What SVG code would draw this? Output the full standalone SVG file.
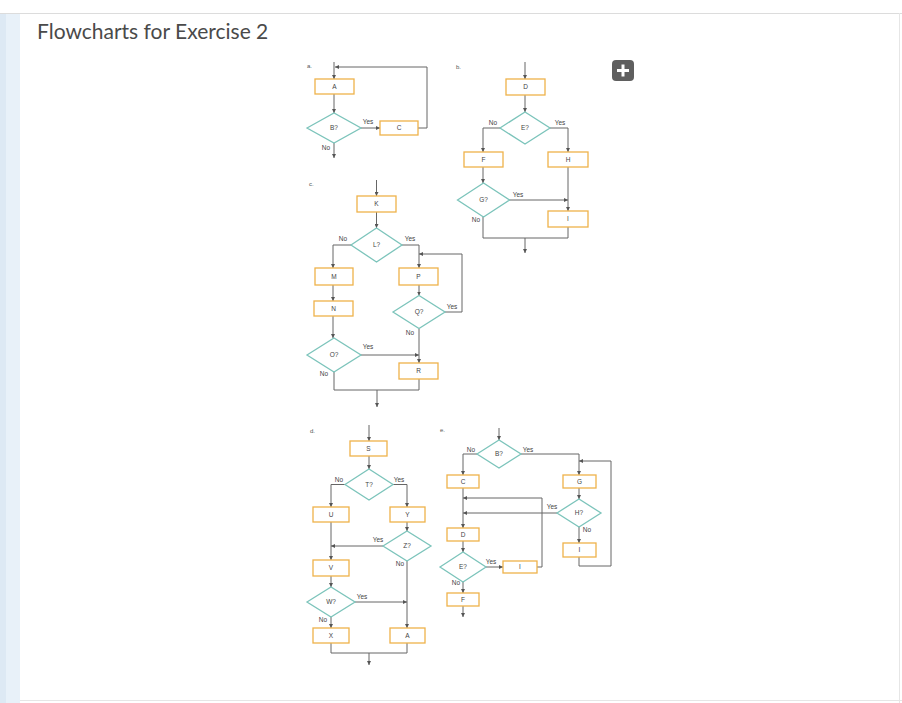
<svg xmlns="http://www.w3.org/2000/svg" width="902" height="703" viewBox="0 0 902 703">
<defs>
<marker id="ah" viewBox="0 0 6 6" refX="6" refY="3" markerWidth="4" markerHeight="4" orient="auto" markerUnits="userSpaceOnUse"><path d="M0,0 L6,3 L0,6 z" fill="#555"/></marker>
<style>
.bx{fill:#fff;stroke:#efb24a;stroke-width:1.3}
.dm{fill:#fff;stroke:#7cc4bb;stroke-width:1.3}
.ln{fill:none;stroke:#666;stroke-width:1}
.ar{marker-end:url(#ah)}
.t{font-family:"Liberation Sans",Arial,sans-serif;font-size:6.5px;fill:#444;text-anchor:middle}
.lb{font-family:"Liberation Sans",Arial,sans-serif;font-size:6.5px;fill:#444;text-anchor:middle}
.cl{font-family:"Liberation Sans",Arial,sans-serif;font-size:6px;fill:#555}
</style>
</defs>
<rect width="902" height="703" fill="#fff"/>
<rect x="0" y="13" width="20" height="690" fill="#e8f1f9"/>
<rect x="0" y="13" width="6" height="690" fill="#dde9f4"/>
<line x1="0" y1="13.5" x2="902" y2="13.5" stroke="#dcdcdc"/>
<line x1="899.5" y1="13" x2="899.5" y2="703" stroke="#e6e6e6"/>
<line x1="20" y1="700.5" x2="902" y2="700.5" stroke="#e6e6e6"/>
<text x="37" y="39" font-family="Lato,'Open Sans',sans-serif" font-size="21" fill="#4a4a4a">Flowcharts for Exercise 2</text>
<g id="plus"><rect x="612" y="60" width="22" height="21" rx="4" fill="#5f5f5f"/><rect x="617" y="69" width="12" height="3" fill="#fff"/><rect x="621.5" y="64.5" width="3" height="12" fill="#fff"/></g>
<g id="chart-labels"><text class="cl" x="307" y="68">a.</text><text class="cl" x="456" y="69">b.</text><text class="cl" x="309" y="186">c.</text><text class="cl" x="310" y="433">d.</text><text class="cl" x="440" y="432">e.</text></g>
<g id="connectors">
<path class="ln ar" d="M334,62 V79"/>
<path class="ln ar" d="M334,94 V113"/>
<path class="ln ar" d="M361,128 H380"/>
<path class="ln ar" d="M418,128 H427 V67 H335"/>
<path class="ln ar" d="M334,143 V158"/>
<path class="ln ar" d="M525,62 V79"/>
<path class="ln ar" d="M525,95 V112"/>
<path class="ln ar" d="M500,128 H483 V152"/>
<path class="ln ar" d="M550,128 H568 V152"/>
<path class="ln ar" d="M483,167 V183"/>
<path class="ln ar" d="M509,200 H568"/>
<path class="ln ar" d="M568,167 V211"/>
<path class="ln" d="M483,217 V238 H568 V227"/>
<path class="ln ar" d="M525,238 V253"/>
<path class="ln ar" d="M376.5,180 V196"/>
<path class="ln ar" d="M376.5,212 V228"/>
<path class="ln ar" d="M351,245 H333 V268"/>
<path class="ln ar" d="M402,245 H419 V268"/>
<path class="ln ar" d="M333,285 V301"/>
<path class="ln ar" d="M419,285 V295.5"/>
<path class="ln ar" d="M445,312 H462 V254 H419"/>
<path class="ln ar" d="M333,316 V338"/>
<path class="ln ar" d="M361,355 H419"/>
<path class="ln ar" d="M419,328.5 V363"/>
<path class="ln" d="M334,372 V390 H419 V379"/>
<path class="ln ar" d="M377,390 V407"/>
<path class="ln ar" d="M369,425 V441"/>
<path class="ln ar" d="M369,456 V469"/>
<path class="ln ar" d="M345,484.5 H331 V507"/>
<path class="ln ar" d="M393,484.5 H407 V507"/>
<path class="ln ar" d="M407,522 V531"/>
<path class="ln ar" d="M331,522 V560"/>
<path class="ln ar" d="M383,546 H331"/>
<path class="ln ar" d="M331,576 V587"/>
<path class="ln ar" d="M355,602 H407"/>
<path class="ln ar" d="M407,561 V628"/>
<path class="ln ar" d="M331,617 V628"/>
<path class="ln" d="M331,643 V653 H407 V643"/>
<path class="ln ar" d="M369,653 V665"/>
<path class="ln ar" d="M499,428 V440"/>
<path class="ln ar" d="M477,454 H463 V475"/>
<path class="ln ar" d="M521,454 H579 V475"/>
<path class="ln ar" d="M579,488 V499"/>
<path class="ln ar" d="M579,527 V543"/>
<path class="ln ar" d="M579,557 V566 H611 V461 H579"/>
<path class="ln ar" d="M557,513 H463"/>
<path class="ln ar" d="M537,567 H542 V498 H463"/>
<path class="ln ar" d="M463,488 V528"/>
<path class="ln ar" d="M463,541 V552"/>
<path class="ln ar" d="M486,567 H503"/>
<path class="ln ar" d="M463,582 V593"/>
<path class="ln ar" d="M463,606 V617"/>
</g>
<g id="edge-labels">
<text class="lb" x="368" y="124">Yes</text><text class="lb" x="326" y="150">No</text>
<text class="lb" x="493" y="125">No</text><text class="lb" x="560" y="125">Yes</text><text class="lb" x="518" y="197">Yes</text><text class="lb" x="476" y="222">No</text>
<text class="lb" x="343" y="241">No</text><text class="lb" x="410" y="241">Yes</text><text class="lb" x="452" y="309">Yes</text><text class="lb" x="410" y="335">No</text><text class="lb" x="368" y="349">Yes</text><text class="lb" x="324" y="376">No</text>
<text class="lb" x="339" y="482">No</text><text class="lb" x="399" y="482">Yes</text><text class="lb" x="378" y="542">Yes</text><text class="lb" x="400" y="566">No</text><text class="lb" x="362" y="599">Yes</text><text class="lb" x="323" y="622">No</text>
<text class="lb" x="471" y="452">No</text><text class="lb" x="528" y="452">Yes</text><text class="lb" x="552" y="509">Yes</text><text class="lb" x="587" y="532">No</text><text class="lb" x="491" y="564">Yes</text><text class="lb" x="456" y="585">No</text>
</g>
<g id="a-A"><rect class="bx" x="315" y="79" width="39" height="15"/><text class="t" x="334.5" y="88.5">A</text></g>
<g id="a-B"><polygon class="dm" points="307,128 334,113 361,128 334,143"/><text class="t" x="334" y="130">B?</text></g>
<g id="a-C"><rect class="bx" x="380" y="121" width="38" height="14"/><text class="t" x="399" y="130">C</text></g>
<g id="b-D"><rect class="bx" x="506" y="79" width="39" height="16"/><text class="t" x="525.5" y="89">D</text></g>
<g id="b-E"><polygon class="dm" points="500,128 525,112 550,128 525,144"/><text class="t" x="525" y="130">E?</text></g>
<g id="b-F"><rect class="bx" x="464" y="152" width="39" height="15"/><text class="t" x="483.5" y="161.5">F</text></g>
<g id="b-H"><rect class="bx" x="548" y="152" width="40" height="15"/><text class="t" x="568" y="161.5">H</text></g>
<g id="b-G"><polygon class="dm" points="457.5,200 483.5,183 509.5,200 483.5,217"/><text class="t" x="483.5" y="202">G?</text></g>
<g id="b-I"><rect class="bx" x="548" y="211" width="40" height="16"/><text class="t" x="568" y="221">I</text></g>
<g id="c-K"><rect class="bx" x="357" y="196" width="39" height="16"/><text class="t" x="376.5" y="206">K</text></g>
<g id="c-L"><polygon class="dm" points="351,245 376.5,228 402,245 376.5,262"/><text class="t" x="376.5" y="247">L?</text></g>
<g id="c-M"><rect class="bx" x="315" y="268" width="38" height="17"/><text class="t" x="334" y="278.5">M</text></g>
<g id="c-P"><rect class="bx" x="399" y="268" width="39" height="17"/><text class="t" x="418.5" y="278.5">P</text></g>
<g id="c-N"><rect class="bx" x="314" y="301" width="39" height="15"/><text class="t" x="333.5" y="310.5">N</text></g>
<g id="c-Q"><polygon class="dm" points="393,312 419,295.5 445,312 419,328.5"/><text class="t" x="419" y="314">Q?</text></g>
<g id="c-O"><polygon class="dm" points="307,355 334,338 361,355 334,372"/><text class="t" x="334" y="357">O?</text></g>
<g id="c-R"><rect class="bx" x="399" y="363" width="39" height="16"/><text class="t" x="418.5" y="373">R</text></g>
<g id="d-S"><rect class="bx" x="350" y="441" width="37" height="15"/><text class="t" x="368.5" y="450.5">S</text></g>
<g id="d-T"><polygon class="dm" points="345,484.5 369,469 393,484.5 369,500"/><text class="t" x="369" y="486.5">T?</text></g>
<g id="d-U"><rect class="bx" x="313" y="507" width="36" height="15"/><text class="t" x="331" y="516.5">U</text></g>
<g id="d-Y"><rect class="bx" x="390" y="507" width="35" height="15"/><text class="t" x="407.5" y="516.5">Y</text></g>
<g id="d-Z"><polygon class="dm" points="383,546 407,531 431,546 407,561"/><text class="t" x="407" y="548">Z?</text></g>
<g id="d-V"><rect class="bx" x="313" y="560" width="36" height="16"/><text class="t" x="331" y="570">V</text></g>
<g id="d-W"><polygon class="dm" points="307,602 331,587 355,602 331,617"/><text class="t" x="331" y="604">W?</text></g>
<g id="d-X"><rect class="bx" x="313" y="628" width="36" height="15"/><text class="t" x="331" y="637.5">X</text></g>
<g id="d-A"><rect class="bx" x="390" y="628" width="35" height="15"/><text class="t" x="407.5" y="637.5">A</text></g>
<g id="e-B"><polygon class="dm" points="477,454 499,440 521,454 499,468"/><text class="t" x="499" y="456">B?</text></g>
<g id="e-C"><rect class="bx" x="447" y="475" width="32" height="13"/><text class="t" x="463" y="483.5">C</text></g>
<g id="e-G"><rect class="bx" x="563" y="475" width="33" height="13"/><text class="t" x="579.5" y="483.5">G</text></g>
<g id="e-H"><polygon class="dm" points="557,513 579,499 601,513 579,527"/><text class="t" x="579" y="515">H?</text></g>
<g id="e-I"><rect class="bx" x="563" y="543" width="33" height="14"/><text class="t" x="579.5" y="552">I</text></g>
<g id="e-D"><rect class="bx" x="447" y="528" width="32" height="13"/><text class="t" x="463" y="536.5">D</text></g>
<g id="e-E"><polygon class="dm" points="440,567 463,552 486,567 463,582"/><text class="t" x="463" y="569">E?</text></g>
<g id="e-I2"><rect class="bx" x="503" y="561" width="34" height="12"/><text class="t" x="520" y="569">I</text></g>
<g id="e-F"><rect class="bx" x="447" y="593" width="32" height="13"/><text class="t" x="463" y="601.5">F</text></g>
</svg>
